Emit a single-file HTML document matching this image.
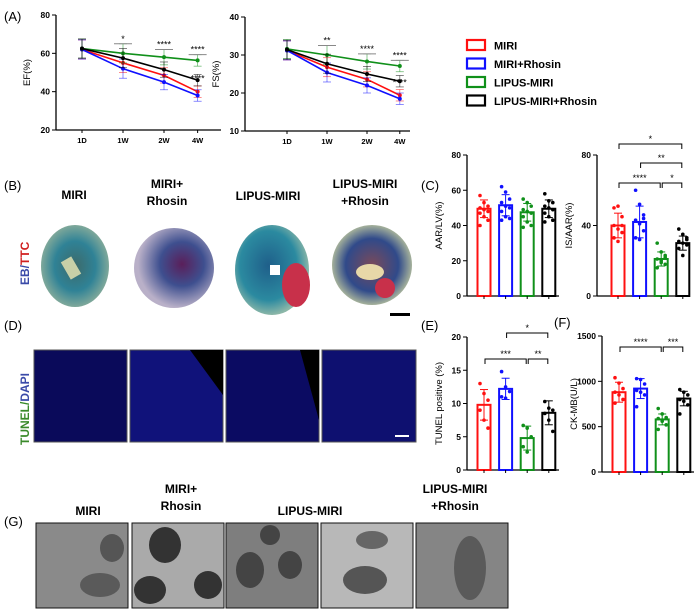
<!DOCTYPE html>
<html><head><meta charset="utf-8"><style>
body{margin:0;background:#fff;width:700px;height:611px;overflow:hidden;font-family:"Liberation Sans",sans-serif}
svg{display:block}
</style></head><body>
<svg id="fig" width="700" height="611" viewBox="0 0 700 611" font-family="Liberation Sans, sans-serif">
<defs>
<radialGradient id="h1" cx="50%" cy="50%" r="50%"><stop offset="0" stop-color="#3d6a6a"/><stop offset="0.6" stop-color="#2f8296"/><stop offset="1" stop-color="#7fa89a"/></radialGradient>
<radialGradient id="h2" cx="60%" cy="45%" r="55%"><stop offset="0" stop-color="#5a1f5a"/><stop offset="0.5" stop-color="#3e4f8f"/><stop offset="1" stop-color="#b9b0c8"/></radialGradient>
<radialGradient id="h3" cx="45%" cy="45%" r="55%"><stop offset="0" stop-color="#1f5f8a"/><stop offset="0.7" stop-color="#2b8aa0"/><stop offset="1" stop-color="#8cb7a8"/></radialGradient>
<radialGradient id="h4" cx="50%" cy="50%" r="55%"><stop offset="0" stop-color="#7a4a5a"/><stop offset="0.6" stop-color="#304a8a"/><stop offset="1" stop-color="#c8d0a0"/></radialGradient>
</defs>
<g font-size="13">
<text x="4" y="21">(A)</text>
<text x="4" y="190">(B)</text>
<text x="421" y="190">(C)</text>
<text x="4" y="330">(D)</text>
<text x="421" y="330">(E)</text>
<text x="554" y="327">(F)</text>
<text x="4" y="526">(G)</text>
</g>
<g font-size="12" font-weight="bold" text-anchor="middle">
<text x="74" y="199">MIRI</text>
<text x="167" y="188">MIRI+</text><text x="167" y="205">Rhosin</text>
<text x="268" y="200">LIPUS-MIRI</text>
<text x="365" y="188">LIPUS-MIRI</text><text x="365" y="205">+Rhosin</text>
</g>
<text transform="translate(29,285) rotate(-90)" font-size="12" font-weight="bold"><tspan fill="#3a4aa8">EB/</tspan><tspan fill="#d02020">TTC</tspan></text>
<g>
<ellipse cx="75" cy="266" rx="34" ry="41" fill="url(#h1)"/>
<rect x="65" y="258" width="12" height="20" fill="#c8d0a8" transform="rotate(-30 71 268)"/>
<ellipse cx="174" cy="268" rx="40" ry="40" fill="url(#h2)"/>
<ellipse cx="272" cy="270" rx="37" ry="45" fill="url(#h3)"/>
<ellipse cx="296" cy="285" rx="14" ry="22" fill="#c8304a"/>
<rect x="270" y="265" width="10" height="10" fill="#fff"/>
<ellipse cx="372" cy="265" rx="40" ry="40" fill="url(#h4)"/>
<ellipse cx="370" cy="272" rx="14" ry="8" fill="#e8d8a8"/>
<ellipse cx="385" cy="288" rx="10" ry="10" fill="#c8304a"/>
<rect x="390" y="313" width="20" height="3" fill="#000"/>
</g>
<text transform="translate(29,445) rotate(-90)" font-size="12" font-weight="bold"><tspan fill="#3a8a2a">TUNEL/</tspan><tspan fill="#3a4aa8">DAPI</tspan></text>
<g>
<rect x="34" y="350" width="93" height="92" fill="#0a0a5a" stroke="#555"/>
<rect x="130" y="350" width="93" height="92" fill="#10127a" stroke="#555"/>
<polygon points="190,350 223,350 223,395" fill="#000"/>
<rect x="226" y="350" width="93" height="92" fill="#0b0b62" stroke="#555"/>
<polygon points="300,350 319,350 319,420" fill="#000"/>
<rect x="322" y="350" width="94" height="92" fill="#0e1070" stroke="#555"/>
<rect x="395" y="435" width="14" height="2" fill="#fff"/>
</g>
<g font-size="12" font-weight="bold" text-anchor="middle">
<text x="88" y="515">MIRI</text>
<text x="181" y="493">MIRI+</text><text x="181" y="510">Rhosin</text>
<text x="310" y="515">LIPUS-MIRI</text>
<text x="455" y="493">LIPUS-MIRI</text><text x="455" y="510">+Rhosin</text>
</g>
<g>
<rect x="36" y="523" width="92" height="85" fill="#8a8a8a" stroke="#111"/>
<ellipse cx="112" cy="548" rx="12" ry="14" fill="#555"/><ellipse cx="100" cy="585" rx="20" ry="12" fill="#5a5a5a"/>
<rect x="132" y="523" width="92" height="85" fill="#aaaaaa" stroke="#111"/>
<ellipse cx="165" cy="545" rx="16" ry="18" fill="#333"/><ellipse cx="150" cy="590" rx="16" ry="14" fill="#333"/><ellipse cx="208" cy="585" rx="14" ry="14" fill="#333"/>
<rect x="226" y="523" width="92" height="85" fill="#7e7e7e" stroke="#111"/>
<ellipse cx="250" cy="570" rx="14" ry="18" fill="#444"/><ellipse cx="290" cy="565" rx="12" ry="14" fill="#444"/><ellipse cx="270" cy="535" rx="10" ry="10" fill="#444"/>
<rect x="321" y="523" width="92" height="85" fill="#b8b8b8" stroke="#111"/>
<ellipse cx="365" cy="580" rx="22" ry="14" fill="#555"/><ellipse cx="372" cy="540" rx="16" ry="9" fill="#666"/>
<rect x="416" y="523" width="92" height="85" fill="#858585" stroke="#111"/>
<ellipse cx="470" cy="568" rx="16" ry="32" fill="#5a5a5a"/>
</g>
<g id="charts"></g>
</svg>
<script>
// ---- data ----
const timeLabels = ["1D","1W","2W","4W"];
const groupNames = ["MIRI","MIRI+Rhosin","LIPUS-MIRI","LIPUS-MIRI+Rhosin"];
const efMIRI = [62,55,48.5,40];
const efRhosin = [62,52,45,38];
const efLipus = [62.5,60,58,56.3];
const efLipusRhosin = [62.5,57.5,51.5,46];
const efErr = [5,5,4,3];
const efTicks = [20,40,60,80];
const fsMIRI = [31.2,26.8,23.6,19.4];
const fsRhosin = [31.2,25.4,22,18.5];
const fsLipus = [31.6,30,28.3,27.1];
const fsLipusRhosin = [31.4,27.7,25,23.1];
const fsErr = [2.5,2.5,2,1.5];
const fsTicks = [10,20,30,40];
const aarMeans = [49.5,51.5,47.5,49.5];
const aarSD = [5,6,5,5];
const aarPoints = [[57,53,51,50,49,48,47,45,43,40],[62,59,55,53,51,50,48,45,44,43],[55,53,51,49,48,47,45,42,40,39],[58,54,53,51,50,49,47,45,43,42]];
const aarTicks = [0,20,40,60,80];
const isMeans = [40,42,21,30];
const isSD = [7,9,4,4];
const isPoints = [[50,51,45,40,38,36,33,31,40],[60,52,46,43,41,37,33,32,44],[30,25,22,21,19,18,16,20,23],[38,35,33,31,30,29,27,23,32]];
const isTicks = [0,40,80];
const tunelMeans = [9.8,12.2,4.8,8.6];
const tunelSD = [2.3,1.6,1.8,1.8];
const tunelPoints = [[13,11.5,10.5,9,7.5,6.3],[14.8,12.5,11.8,11,10.8],[6.7,6.3,5,3.5,2.7],[10.3,9.3,9,8.5,7.5,5.8]];
const tunelTicks = [0,5,10,15,20];
const ckMeans = [880,920,580,810];
const ckSD = [110,110,60,80];
const ckPoints = [[1040,980,920,880,850,800,760],[1030,1020,970,900,880,850,720],[700,640,600,590,560,520,470],[910,880,850,800,780,740,640]];
const ckTicks = [0,500,1000,1500];
const colors = ["#ff1010","#1010ff","#10901a","#000000"];

const NS="http://www.w3.org/2000/svg";
const root=document.getElementById('charts');
function el(tag,attrs,parent){const e=document.createElementNS(NS,tag);for(const k in attrs)e.setAttribute(k,attrs[k]);(parent||root).appendChild(e);return e;}
function txt(x,y,s,attrs,parent){const t=el('text',Object.assign({x:x,y:y},attrs||{}),parent);t.textContent=s;return t;}

function axisY(g,x,y0,y1,ticks,ymin,ymax,title,titleX){
  const sc=v=>y0-(v-ymin)/(ymax-ymin)*(y0-y1);
  const ax=el('line',{x1:x,y1:y0,x2:x,y2:sc(ymax),stroke:'#000','stroke-width':1.3},g);
  
  
  ticks.forEach(t=>{el('line',{x1:x-4,x2:x,y1:sc(t),y2:sc(t),stroke:'#000'},g);
    const l=txt(x-6,sc(t)+3,String(t),{'font-size':8.5,'font-weight':'bold','text-anchor':'end'},g);
    
    });
  const tt=txt(0,0,title,{'font-size':9.5,'text-anchor':'middle',transform:`translate(${titleX},${(y0+y1)/2}) rotate(-90)`},g);
  
  
  return sc;
}

function lineChart(cfg){
  const g=el('g',{});
  
  
  const sc=axisY(g,cfg.x,cfg.y0,cfg.y1,cfg.ticks,cfg.ticks[0],cfg.ticks[cfg.ticks.length-1],cfg.title,cfg.x-26);
  el('line',{x1:cfg.x,x2:cfg.x+165,y1:cfg.y0,y2:cfg.y0,stroke:'#000','stroke-width':1.3},g);
  const xs=i=>cfg.xs[0]+i*(cfg.xs[1]-cfg.xs[0])+(i==3?-(cfg.xs[1]-cfg.xs[0])*0.18:0);
  timeLabels.forEach((l,i)=>{el('line',{x1:xs(i),x2:xs(i),y1:cfg.y0,y2:cfg.y0+3,stroke:'#000'},g);
    const t=txt(xs(i),cfg.y0+13,l,{'font-size':7.5,'font-weight':'bold','text-anchor':'middle'},g);
    
    });
  cfg.series.forEach((s,si)=>{
    const pts=s.map((v,i)=>xs(i)+','+sc(v)).join(' ');
    s.forEach((v,i)=>{const e=cfg.err[i];
      el('line',{x1:xs(i),x2:xs(i),y1:sc(v-e),y2:sc(v+e),stroke:colors[si],'stroke-width':0.8,opacity:0.6},g);
      el('line',{x1:xs(i)-4,x2:xs(i)+4,y1:sc(v+e),y2:sc(v+e),stroke:colors[si],'stroke-width':0.8,opacity:0.6},g);
      el('line',{x1:xs(i)-4,x2:xs(i)+4,y1:sc(v-e),y2:sc(v-e),stroke:colors[si],'stroke-width':0.8,opacity:0.6},g);});
    const p=el('polyline',{points:pts,fill:'none',stroke:colors[si],'stroke-width':1.6},g);
    
    
    s.forEach((v,i)=>{const c=el('circle',{cx:xs(i),cy:sc(v),r:2,fill:colors[si]},g);
      
      });
  });
  cfg.stars.forEach((st,i)=>{const i1=i+1;
    const yv=cfg.series[2][i1]+cfg.err[i1]+cfg.starOff;
    el('line',{x1:xs(i1)-9,x2:xs(i1)+9,y1:sc(yv),y2:sc(yv),stroke:'#888','stroke-width':1},g);
    txt(xs(i1),sc(yv)-2,st,{'font-size':9,'text-anchor':'middle'},g);});
  const y4=cfg.series[0][3]; txt(xs(3),sc(y4)-10,cfg.lowStar,{'font-size':9,'text-anchor':'middle'},g);
}

lineChart({name:'ef-chart',x:56,y0:130,y1:15,ticks:efTicks,title:'EF(%)',xs:[82,123],series:[efMIRI,efRhosin,efLipus,efLipusRhosin],err:efErr,stars:['*','****','****'],starOff:0,lowStar:'****'});
lineChart({name:'fs-chart',x:245,y0:131,y1:17,ticks:fsTicks,title:'FS(%)',xs:[287,327],series:[fsMIRI,fsRhosin,fsLipus,fsLipusRhosin],err:fsErr,stars:['**','****','****'],starOff:0,lowStar:'****'});

// legend
const lg=el('g',{});


groupNames.forEach((n,i)=>{const y=40+i*18.5;
  const r=el('rect',{x:467,y:y,width:18,height:10,fill:'none',stroke:colors[i],'stroke-width':2.2},lg);
  
  
  const t=txt(494,y+9.5,n,{'font-size':11,'font-weight':'bold'},lg);
  
  });

function barChart(cfg){
  const g=el('g',{});
  
  
  const ymin=cfg.ticks[0],ymax=cfg.ticks[cfg.ticks.length-1];
  const sc=axisY(g,cfg.x,cfg.y0,cfg.y1,cfg.ticks,ymin,ymax,cfg.title,cfg.x-25);
  el('line',{x1:cfg.x,x2:cfg.x+92,y1:cfg.y0,y2:cfg.y0,stroke:'#000','stroke-width':1.3},g);
  const xs=i=>cfg.bx+i*21.6;
  cfg.means.forEach((m,i)=>{
    const b=el('rect',{x:xs(i)-6.5,y:sc(m),width:13,height:cfg.y0-sc(m),fill:'none',stroke:colors[i],'stroke-width':2},g);
    
    
    const e=cfg.sd[i];
    el('line',{x1:xs(i),x2:xs(i),y1:sc(m+e),y2:sc(m-e),stroke:colors[i],'stroke-width':1},g);
    el('line',{x1:xs(i)-4,x2:xs(i)+4,y1:sc(m+e),y2:sc(m+e),stroke:colors[i],'stroke-width':1},g);
    el('line',{x1:xs(i)-4,x2:xs(i)+4,y1:sc(m-e),y2:sc(m-e),stroke:colors[i],'stroke-width':1},g);
    el('line',{x1:xs(i),x2:xs(i),y1:cfg.y0,y2:cfg.y0+3,stroke:'#000'},g);
    cfg.points[i].forEach((p,j)=>{const c=el('circle',{cx:xs(i)+((j%3)-1)*4,cy:sc(p),r:1.8,fill:colors[i]},g);
      
      });
  });
  cfg.sig.forEach(s=>{const y=s[2],a=xs(s[0]),b=xs(s[1]);
    el('polyline',{points:`${a+1},${y+5} ${a+1},${y} ${b-1},${y} ${b-1},${y+5}`,fill:'none',stroke:'#000','stroke-width':1},g);
    const t=txt((a+b)/2,y-2,s[3],{'font-size':9,'text-anchor':'middle'},g);
    
    });
}
barChart({name:'aar-lv-chart',x:467,y0:296,y1:155,ticks:aarTicks,title:'AAR/LV(%)',bx:484,means:aarMeans,sd:aarSD,points:aarPoints,sig:[]});
barChart({name:'is-aar-chart',x:597,y0:296,y1:155,ticks:isTicks,title:'IS/AAR(%)',bx:618,means:isMeans,sd:isSD,points:isPoints,sig:[[0,3,144,'*'],[1,3,163,'**'],[0,2,183,'****'],[2,3,183,'*']]});
barChart({name:'tunel-chart',x:467,y0:470,y1:337,ticks:tunelTicks,title:'TUNEL positive (%)',bx:484,means:tunelMeans,sd:tunelSD,points:tunelPoints,sig:[[1,3,333,'*'],[0,2,359,'***'],[2,3,359,'**']]});
barChart({name:'ck-mb-chart',x:602,y0:472,y1:336,ticks:ckTicks,title:'CK-MB(U/L)',bx:619,means:ckMeans,sd:ckSD,points:ckPoints,sig:[[0,2,347,'****'],[2,3,347,'***']]});
</script>
</body></html>
